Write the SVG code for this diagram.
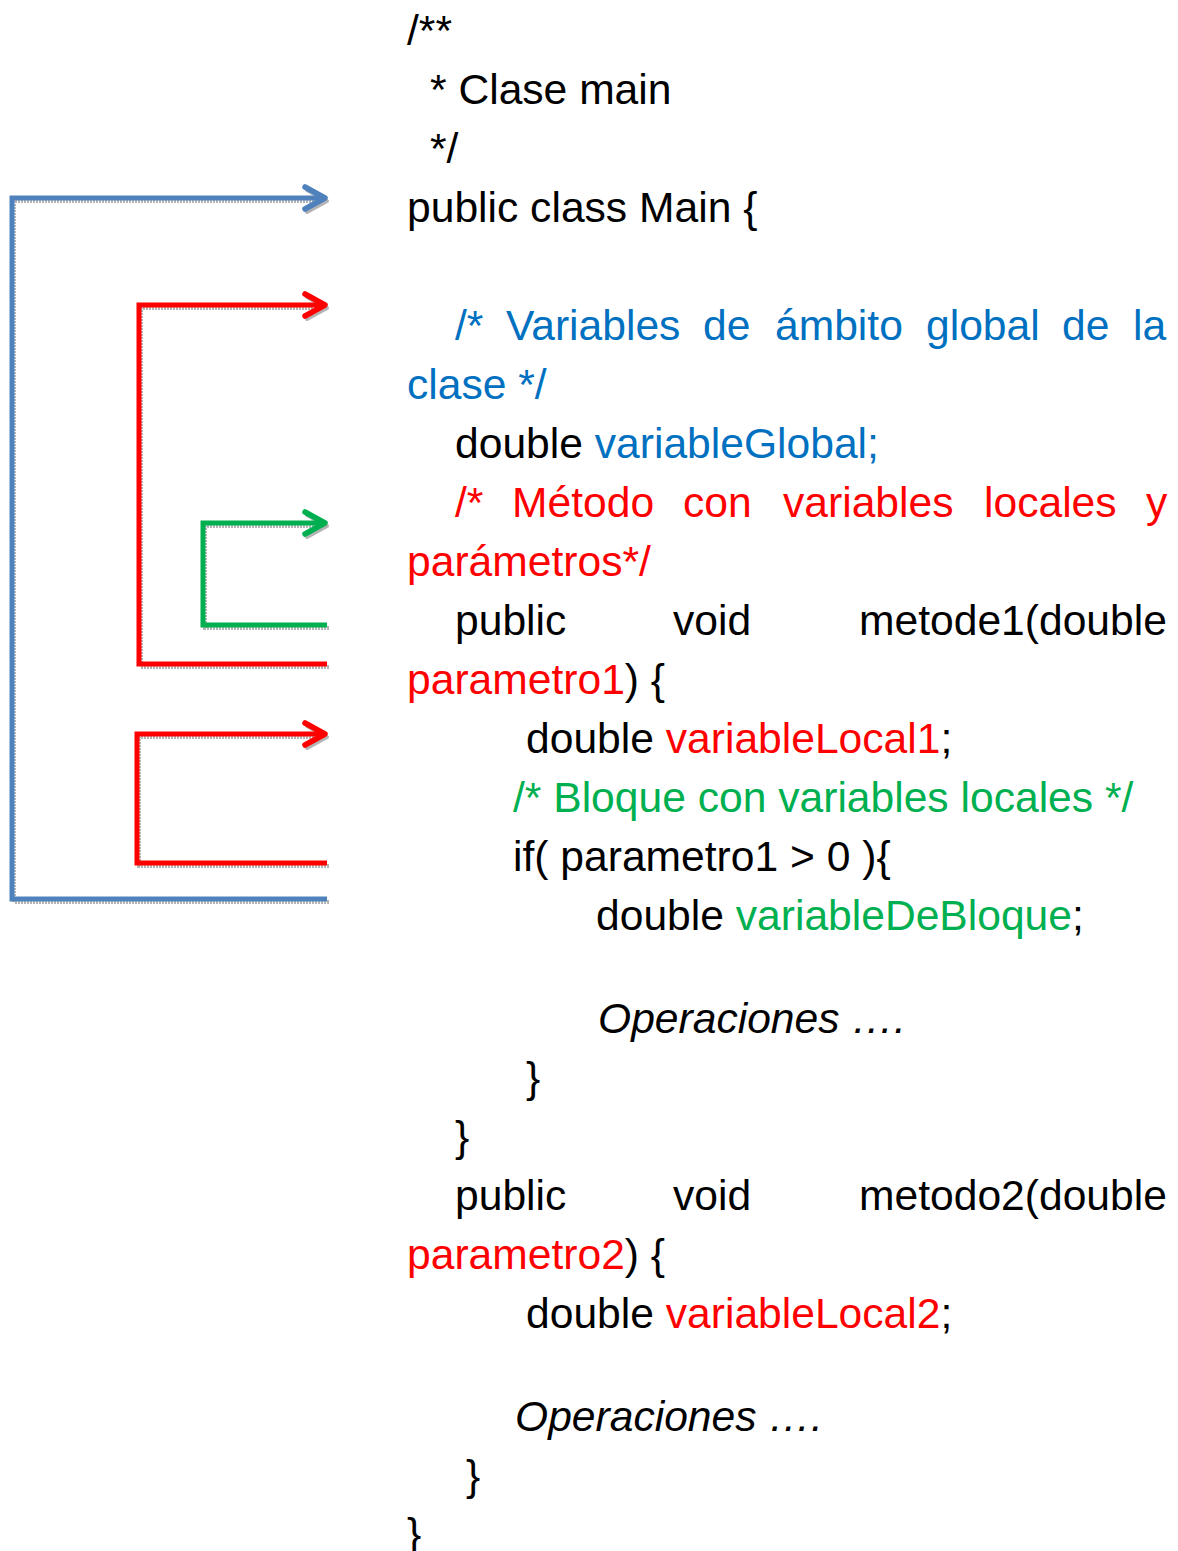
<svg xmlns="http://www.w3.org/2000/svg" width="1178" height="1551" viewBox="0 0 1178 1551">
<style>
text{font-family:"Liberation Sans",Arial,sans-serif;font-size:42.6px;fill:#000}
.b{fill:#0070C0}.r{fill:#FF0000}.g{fill:#00B050}.i{font-style:italic}
.c{fill:none;stroke-width:5;stroke-linejoin:miter}
.sh{fill:none;stroke:#b4b4b4;stroke-width:4;stroke-dasharray:2 1}
</style>
<defs>
<marker id="aB" markerUnits="userSpaceOnUse" viewBox="-26 -16 32 32" refX="0" refY="0" markerWidth="32" markerHeight="32" orient="auto" overflow="visible"><path d="M-20 -11 L0 0 L-20 11" fill="none" stroke="#4F81BD" stroke-width="5.5" stroke-linecap="round" stroke-linejoin="round"/></marker>
<marker id="aR" markerUnits="userSpaceOnUse" viewBox="-26 -16 32 32" refX="0" refY="0" markerWidth="32" markerHeight="32" orient="auto" overflow="visible"><path d="M-20 -11 L0 0 L-20 11" fill="none" stroke="#FF0000" stroke-width="5.5" stroke-linecap="round" stroke-linejoin="round"/></marker>
<marker id="aG" markerUnits="userSpaceOnUse" viewBox="-26 -16 32 32" refX="0" refY="0" markerWidth="32" markerHeight="32" orient="auto" overflow="visible"><path d="M-20 -11 L0 0 L-20 11" fill="none" stroke="#00B050" stroke-width="5.5" stroke-linecap="round" stroke-linejoin="round"/></marker>
<marker id="aS" markerUnits="userSpaceOnUse" viewBox="-26 -16 32 32" refX="0" refY="0" markerWidth="32" markerHeight="32" orient="auto" overflow="visible"><path d="M-20 -11 L0 0 L-20 11" fill="none" stroke="#b4b4b4" stroke-width="4" stroke-linecap="round" stroke-linejoin="round"/></marker>
</defs>
<g id="connectors">
<g id="shadows" transform="translate(2,3)">
<path class="sh" d="M327 899 L12 899 L12 198 L325 198" marker-end="url(#aS)"/>
<path class="sh" d="M327 664 L139 664 L139 305 L325 305" marker-end="url(#aS)"/>
<path class="sh" d="M327 625 L203 625 L203 523 L325 523" marker-end="url(#aS)"/>
<path class="sh" d="M327 863 L137 863 L137 734 L325 734" marker-end="url(#aS)"/>
</g>
<path id="scope-class" class="c" stroke="#4F81BD" d="M327 899 L12 899 L12 198 L325 198" marker-end="url(#aB)"/>
<path id="scope-method1" class="c" stroke="#FF0000" d="M327 664 L139 664 L139 305 L325 305" marker-end="url(#aR)"/>
<path id="scope-block" class="c" stroke="#00B050" d="M327 625 L203 625 L203 523 L325 523" marker-end="url(#aG)"/>
<path id="scope-method2" class="c" stroke="#FF0000" d="M327 863 L137 863 L137 734 L325 734" marker-end="url(#aR)"/>
</g>
<g id="code">
<text x="407" y="45">/**</text>
<text x="430" y="104">* Clase main</text>
<text x="430" y="163">*/</text>
<text x="407" y="222">public class Main {</text>
<text class="b" y="340"><tspan x="455">/*</tspan><tspan x="506">Variables</tspan><tspan x="703">de</tspan><tspan x="775">ámbito</tspan><tspan x="926">global</tspan><tspan x="1062">de</tspan><tspan x="1133">la</tspan></text>
<text class="b" x="407" y="399">clase */</text>
<text x="455" y="458">double <tspan class="b">variableGlobal;</tspan></text>
<text class="r" y="517"><tspan x="455">/*</tspan><tspan x="512">Método</tspan><tspan x="683">con</tspan><tspan x="783">variables</tspan><tspan x="984">locales</tspan><tspan x="1146">y</tspan></text>
<text class="r" x="407" y="576">parámetros*/</text>
<text y="635"><tspan x="455">public</tspan><tspan x="673">void</tspan><tspan x="859">metode1(double</tspan></text>
<text x="407" y="694"><tspan class="r">parametro1</tspan>) {</text>
<text x="526" y="753">double <tspan class="r">variableLocal1</tspan>;</text>
<text class="g" x="513" y="812">/* Bloque con variables locales */</text>
<text x="513" y="871">if( parametro1 &gt; 0 ){</text>
<text x="596" y="930">double <tspan class="g">variableDeBloque</tspan>;</text>
<text class="i" x="598" y="1033">Operaciones ….</text>
<text x="526" y="1092">}</text>
<text x="455" y="1151">}</text>
<text y="1210"><tspan x="455">public</tspan><tspan x="673">void</tspan><tspan x="859">metodo2(double</tspan></text>
<text x="407" y="1269"><tspan class="r">parametro2</tspan>) {</text>
<text x="526" y="1328">double <tspan class="r">variableLocal2</tspan>;</text>
<text class="i" x="515" y="1431">Operaciones ….</text>
<text x="466" y="1490">}</text>
<text x="407" y="1548">}</text>
</g>
</svg>
